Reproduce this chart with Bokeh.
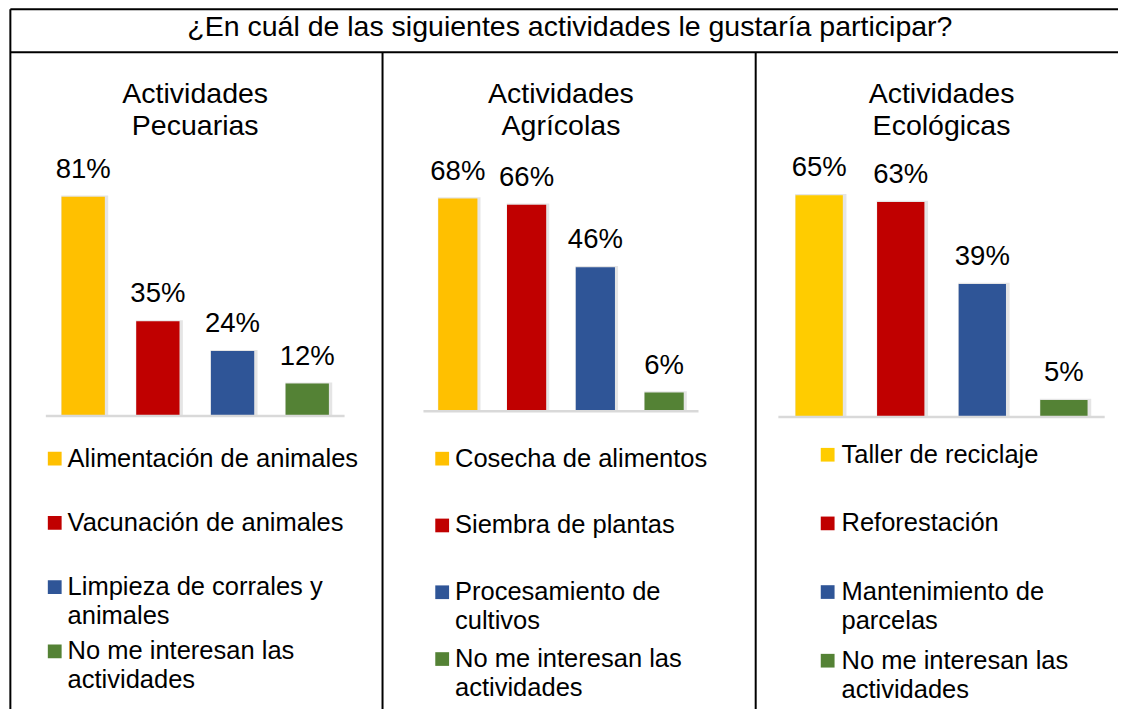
import textwrap
from bokeh.plotting import figure
from bokeh.models import Range1d, ColumnDataSource
from bokeh.core.properties import value
from bokeh.embed import file_html
from bokeh.resources import INLINE

# ---------------- data ----------------
main_title = "¿En cuál de las siguientes actividades le gustaría participar?"
panel_titles = ["Actividades Pecuarias", "Actividades Agrícolas", "Actividades Ecológicas"]

pecuarias_labels = ["Alimentación de animales", "Vacunación de animales",
                    "Limpieza de corrales y animales", "No me interesan las actividades"]
pecuarias_values = [81, 35, 24, 12]

agricolas_labels = ["Cosecha de alimentos", "Siembra de plantas",
                    "Procesamiento de cultivos", "No me interesan las actividades"]
agricolas_values = [68, 66, 46, 6]

ecologicas_labels = ["Taller de reciclaje", "Reforestación",
                     "Mantenimiento de parcelas", "No me interesan las actividades"]
ecologicas_values = [65, 63, 39, 5]

colors_a = ["#FFC000", "#C00000", "#2F5597", "#548235"]
colors_b = ["#FFCC00", "#C00000", "#2F5597", "#548235"]

# ---------------- layout ----------------
# Design space is 1134 x 725 units, drawn into a 1118 x 709 px figure.
DW, DH = 1134, 725
FW, FH = 1118, 709
SY = FH / DH
FONT = value("Liberation Sans")

p = figure(width=FW, height=FH, output_backend="svg", toolbar_location=None, tools="",
           x_axis_type=None, y_axis_type=None,
           x_range=Range1d(0, DW), y_range=Range1d(DH, 0),
           min_border=0, min_border_left=0, min_border_right=0,
           min_border_top=0, min_border_bottom=0)
p.outline_line_color = None
p.background_fill_color = "white"
p.border_fill_color = "white"
p.xgrid.visible = False
p.ygrid.visible = False

# table borders
p.segment(x0=[10, 10, 10, 387.5, 766], y0=[9, 53, 9, 53, 53],
          x1=[DW, DW, 10, 387.5, 766], y1=[9, 53, DH, DH, DH],
          line_color="black", line_width=2)

# header
p.text(x=[577.5], y=[26.5], text=[main_title], text_font=FONT, text_font_size="28.5px",
       text_align="center", text_baseline="middle", text_color="#000000")

panels = [
    dict(labels=pecuarias_labels, values=pecuarias_values, colors=colors_a,
         L=46, R=349, B=425, ppu=2.77, bw=0.58, sq=48, tx=68, ly=468.5, lstep=65.7),
    dict(labels=agricolas_labels, values=agricolas_values, colors=colors_a,
         L=429, R=708, B=420, ppu=3.2, bw=0.57, sq=441, tx=461, ly=468.5, lstep=68.3),
    dict(labels=ecologicas_labels, values=ecologicas_values, colors=colors_b,
         L=789, R=1120, B=426, ppu=3.49, bw=0.58, sq=832, tx=853, ly=464.5, lstep=70.2),
]

xr, yr = {}, {}
for k, pn in enumerate(panels):
    n = len(pn["values"])
    s = n / (pn["R"] - pn["L"])
    xs = -0.5 - pn["L"] * s
    xr[f"x{k}"] = Range1d(xs, xs + DW * s)
    yr[f"y{k}"] = Range1d((pn["B"] - DH) / pn["ppu"], pn["B"] / pn["ppu"])
p.extra_x_ranges = xr
p.extra_y_ranges = yr

for k, pn in enumerate(panels):
    xn, yn = f"x{k}", f"y{k}"
    n = len(pn["values"])
    idx = list(range(n))
    src = ColumnDataSource(dict(x=idx, top=pn["values"], color=pn["colors"],
                                lab=[f"{v}%" for v in pn["values"]],
                                sx=[i + 0.02 for i in idx],
                                stop=[v + 0.4 for v in pn["values"]]))
    # soft shadow
    p.vbar(x="sx", top="stop", bottom=0, width=pn["bw"] + 0.05, source=src,
           fill_color="#000000", fill_alpha=0.10, line_color=None,
           x_range_name=xn, y_range_name=yn)
    p.vbar(x="x", top="top", bottom=0, width=pn["bw"], source=src,
           fill_color="color", line_color=None, x_range_name=xn, y_range_name=yn)
    # category axis baseline
    p.line(x=[-0.5, n - 0.5], y=[0, 0], line_color="#D9D9D9", line_width=2.5,
           x_range_name=xn, y_range_name=yn)
    # value labels
    p.text(x="x", y="top", text="lab", source=src, text_font=FONT, text_font_size="27.5px",
           text_align="center", text_baseline="middle", y_offset=-29 * SY,
           text_color="#000000", x_range_name=xn, y_range_name=yn)

    # panel title
    cx = (pn["L"] + pn["R"]) / 2
    tlines = textwrap.wrap(panel_titles[k], width=12)
    p.text(x=[cx] * len(tlines), y=[94.5 + 33 * j for j in range(len(tlines))], text=tlines,
           text_font=FONT, text_font_size="28.5px", text_align="center",
           text_baseline="middle", text_color="#000000")

    # legend
    sqx, sqy, lx, ly, lt = [], [], [], [], []
    for i, lab in enumerate(pn["labels"]):
        cy = pn["ly"] + pn["lstep"] * i
        sqx.append(pn["sq"] + 7)
        sqy.append(cy)
        for j, line in enumerate(textwrap.wrap(lab, width=24)):
            lx.append(pn["tx"])
            ly.append(cy - 1 + 29.5 * j)
            lt.append(line)
    p.rect(x=sqx, y=sqy, width=14, height=14,
           fill_color=pn["colors"], line_color=None)
    p.text(x=lx, y=ly, text=lt, text_font=FONT, text_font_size="25.5px", text_align="left",
           text_baseline="middle", text_color="#000000")

open("out.html", "w").write(file_html(p, INLINE))
